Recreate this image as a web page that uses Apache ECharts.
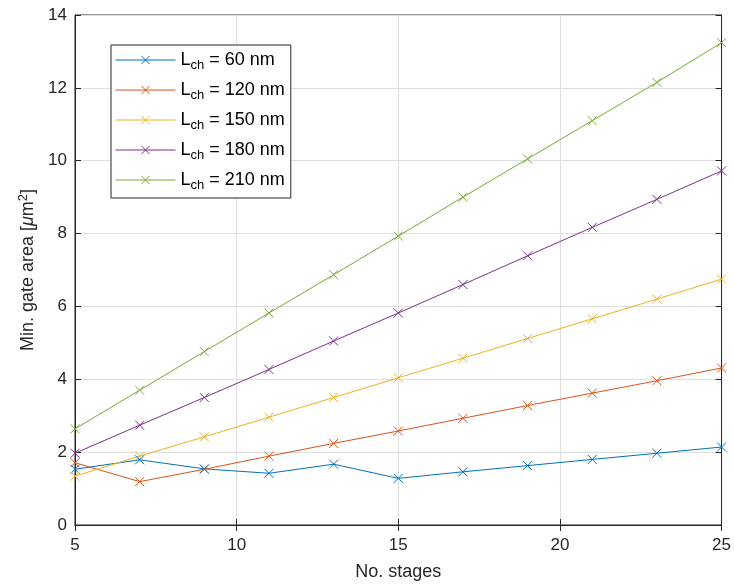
<!DOCTYPE html>
<html>
<head>
<meta charset="utf-8">
<script src="https://cdn.jsdelivr.net/npm/echarts@6/dist/echarts.min.js"></script>
<style>html,body{margin:0;padding:0;background:#fff}#c{width:734px;height:587px}</style>
</head>
<body>
<div id="c"></div>
<script>
const stages = [5, 7, 9, 11, 13, 15, 17, 19, 21, 23, 25];
const seriesNames = ['60 nm', '120 nm', '150 nm', '180 nm', '210 nm'];
const area60  = [1.53, 1.79, 1.54, 1.42, 1.67, 1.28, 1.46, 1.63, 1.80, 1.97, 2.14];
const area120 = [1.71, 1.19, 1.53, 1.89, 2.24, 2.58, 2.93, 3.28, 3.62, 3.96, 4.31];
const area150 = [1.34, 1.89, 2.42, 2.96, 3.50, 4.04, 4.58, 5.12, 5.66, 6.20, 6.75];
const area180 = [1.97, 2.74, 3.50, 4.27, 5.05, 5.82, 6.60, 7.39, 8.17, 8.94, 9.72];
const area210 = [2.64, 3.70, 4.76, 5.82, 6.87, 7.93, 9.00, 10.05, 11.10, 12.15, 13.24];
const xTicks = [5, 10, 15, 20, 25];
const yTicks = [0, 2, 4, 6, 8, 10, 12, 14];

const allValues = [area60, area120, area150, area180, area210];
const colors = ['#0072BD', '#D95319', '#EDB120', '#7E2F8E', '#77AC30'];
const FONT = 'Liberation Sans';
const xSym = 'path://M0,0L10,10M10,0L0,10';

const chart = echarts.init(document.getElementById('c'), null, {renderer: 'canvas'});

const series = allValues.map((vals, i) => ({
  name: seriesNames[i],
  type: 'line',
  data: stages.map((s, j) => [s, vals[j]]),
  symbol: xSym,
  symbolSize: 9,
  showAllSymbol: true,
  lineStyle: {color: colors[i], width: 1},
  itemStyle: {color: 'rgba(0,0,0,0)', borderColor: colors[i], borderWidth: 1},
  emphasis: {disabled: true},
  animation: false,
  z: 3
}));

const tickLabelStyle = {color: '#262626', fontFamily: FONT, fontSize: 17};

chart.setOption({
  backgroundColor: '#fff',
  animation: false,
  grid: {left: 75, right: 12, top: 15, bottom: 62, show: true, borderColor: '#262626', borderWidth: 1, backgroundColor: 'transparent'},
  legend: {
    orient: 'vertical',
    left: 111, top: 45,
    data: seriesNames.map((n, i) => ({
      name: n,
      itemStyle: {color: 'rgba(0,0,0,0)', borderColor: colors[i], borderWidth: 1},
      lineStyle: {color: colors[i], width: 1}
    })),
    backgroundColor: '#fff',
    borderColor: '#262626',
    borderWidth: 1,
    borderRadius: 0,
    padding: [3, 6, 6, 4],
    itemWidth: 60,
    itemHeight: 10,
    itemGap: 6,
    itemStyle: {borderWidth: 1},
    formatter: function (name) {
      return '{a|L}{s|ch}{a| = ' + name + '}';
    },
    textStyle: {
      color: '#000',
      fontFamily: FONT,
      rich: {
        a: {fontSize: 18, fontFamily: FONT, color: '#000', lineHeight: 19},
        s: {fontSize: 13, fontFamily: FONT, color: '#000', padding: [11, 0, 0, 0], lineHeight: 19}
      }
    }
  },
  xAxis: [{
    type: 'value', min: 5, max: 25, interval: 5,
    name: 'No. stages', nameLocation: 'middle', nameGap: 38,
    nameTextStyle: {color: '#262626', fontFamily: FONT, fontSize: 18},
    axisLine: {show: true, lineStyle: {color: '#262626', width: 1}},
    axisTick: {show: true, inside: true, length: 6, lineStyle: {color: '#262626'}},
    axisLabel: Object.assign({margin: 12, formatter: v => xTicks.includes(v) ? String(v) : ''}, tickLabelStyle),
    splitLine: {show: true, lineStyle: {color: '#dfdfdf', width: 1}}
  }, {
    type: 'value', min: 5, max: 25, interval: 5, position: 'top',
    axisLine: {show: true, lineStyle: {color: '#262626', width: 1}},
    axisTick: {show: true, inside: true, length: 6, lineStyle: {color: '#262626'}},
    axisLabel: {show: false}, splitLine: {show: false}
  }],
  yAxis: [{
    type: 'value', min: 0, max: 14, interval: 2,
    name: 'Min. gate area [{i|μ}m{sup|2}]', nameLocation: 'middle', nameGap: 33,
    nameTextStyle: {
      color: '#262626', fontFamily: FONT, fontSize: 18,
      rich: {
        i: {fontStyle: 'italic', fontSize: 18, fontFamily: FONT, color: '#262626'},
        sup: {fontSize: 13, fontFamily: FONT, color: '#262626', padding: [0, 0, 10, 0]}
      }
    },
    axisLine: {show: true, lineStyle: {color: '#262626', width: 1}},
    axisTick: {show: true, inside: true, length: 6, lineStyle: {color: '#262626'}},
    axisLabel: Object.assign({margin: 8, formatter: v => yTicks.includes(v) ? String(v) : ''}, tickLabelStyle),
    splitLine: {show: true, lineStyle: {color: '#dfdfdf', width: 1}}
  }, {
    type: 'value', min: 0, max: 14, interval: 2, position: 'right',
    axisLine: {show: true, lineStyle: {color: '#262626', width: 1}},
    axisTick: {show: true, inside: true, length: 6, lineStyle: {color: '#262626'}},
    axisLabel: {show: false}, splitLine: {show: false}
  }],
  series: series
});
</script>
</body>
</html>
